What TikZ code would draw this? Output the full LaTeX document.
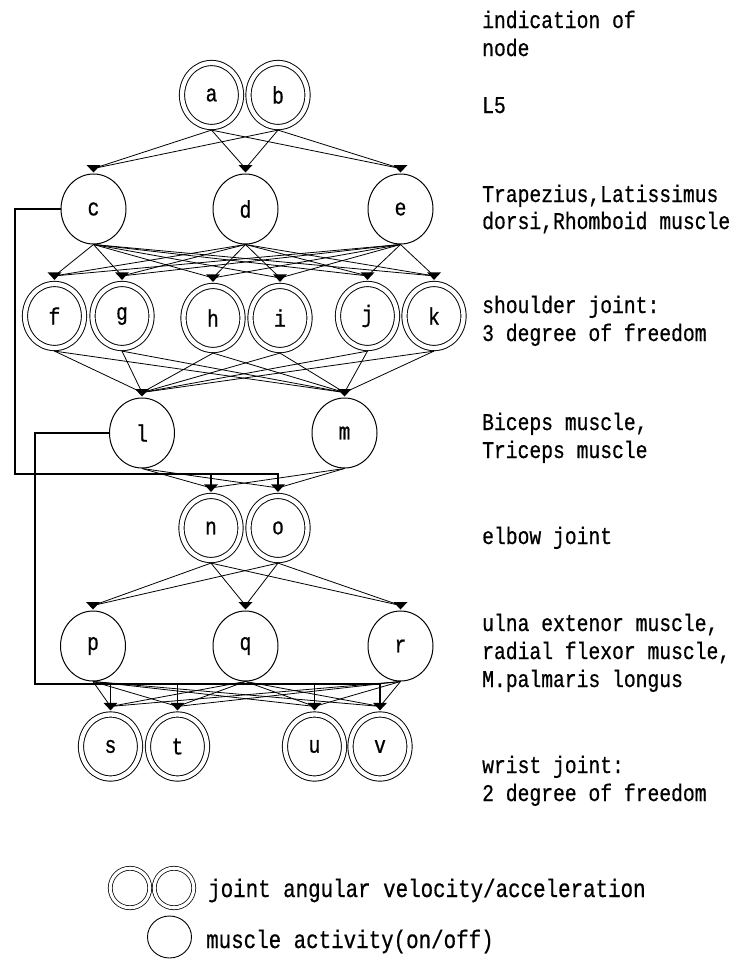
\documentclass[tikz,border=0pt]{standalone}
\usepackage{fontspec}
\newfontfamily\lmono[FakeStretch=0.82,FakeBold=0.6]{Liberation Mono}
\usetikzlibrary{shapes.geometric,calc}
\begin{document}
\begin{tikzpicture}[x=1pt,y=-1pt,
  lab/.style={font=\lmono\fontsize{24}{28}\selectfont},
  muscle/.style={ellipse,draw,line width=1pt,minimum width=65pt,minimum height=70pt,inner sep=0pt,lab},
  joint/.style={ellipse,draw,double,line width=0.95pt,double distance=4.3pt,minimum width=59pt,minimum height=64pt,inner sep=0pt,outer sep=3.1pt,lab},
  jointsm/.style={circle,draw,double,line width=0.75pt,double distance=3.2pt,minimum size=39.5pt,inner sep=0pt},
  musclesm/.style={ellipse,draw,line width=0.9pt,minimum width=44pt,minimum height=42pt,inner sep=0pt},
  conn/.style={line width=0.8pt},
  fb/.style={line width=1.9pt},
  lbl/.style={anchor=base west,inner sep=0pt,font=\lmono\fontsize{24}{28}\selectfont},
  lbl2/.style={anchor=base west,inner sep=0pt,font=\lmono\fontsize{25.4}{28}\selectfont},
  ]
\useasboundingbox[fill=white] (0,0) rectangle (735,959);

% nodes
\node[joint] (a) at (211.5,95) {a};
\node[joint] (b) at (278,95) {b};
\node[muscle] (c) at (93.5,209) {c};
\node[muscle] (d) at (245.5,209) {d};
\node[muscle] (e) at (400.5,209) {e};
\node[joint] (f) at (54.5,316) {f};
\node[joint] (g) at (122,316) {g};
\node[joint] (h) at (213,318) {h};
\node[joint] (i) at (280,318) {i};
\node[joint] (j) at (367.5,316) {j};
\node[joint] (k) at (434,316) {k};
\node[muscle] (l) at (142,433) {l};
\node[muscle] (m) at (344.5,433) {m};
\node[joint] (n) at (211,528) {n};
\node[joint] (o) at (278,528) {o};
\node[muscle] (p) at (93,646) {p};
\node[muscle] (q) at (245.5,646) {q};
\node[muscle] (r) at (400.5,646) {r};
\node[joint] (s) at (110.5,746.5) {s};
\node[joint] (t) at (177.5,746.5) {t};
\node[joint] (u) at (314.5,746.5) {u};
\node[joint] (v) at (380,746.5) {v};

% arrow markers
\foreach \n in {c,d,e,f,g,h,i,j,k,l,m,n,o,p,q,r,s,t,u,v}{
  \coordinate (\n-in) at ([yshift=5pt]\n.north);
  \fill ([yshift=1pt]\n.north) -- ++(-7pt,7.5pt) -- ++(14pt,0pt) -- cycle;
}

% connectors
\foreach \s in {a,b}{\foreach \t in {c,d,e}{\draw[conn] (\s.south) -- (\t-in);}}
\foreach \s in {c,d,e}{\foreach \t in {f,g,h,i,j,k}{\draw[conn] (\s.south) -- (\t-in);}}
\foreach \s in {f,g,h,i,j,k}{\foreach \t in {l,m}{\draw[conn] (\s.south) -- (\t-in);}}
\foreach \s in {l,m}{\foreach \t in {n,o}{\draw[conn] (\s.south) -- (\t-in);}}
\foreach \s in {n,o}{\foreach \t in {p,q,r}{\draw[conn] (\s.south) -- (\t-in);}}
\foreach \s in {p,q,r}{\foreach \t in {s,t,u,v}{\draw[conn] (\s.south) -- (\t-in);}}

% feedback lines
\coordinate (fb1) at (15,474);
\draw[fb] (c.west) -| (fb1) -| (o-in);
\draw[fb] (n-in |- fb1) -- (n-in);
\coordinate (fb2) at (35,684);
\draw[fb] (l.west) -| (fb2) -| (v-in);
\draw[fb] (s-in |- fb2) -- (s-in);
\draw[fb] (t-in |- fb2) -- (t-in);
\draw[fb] (u-in |- fb2) -- (u-in);

% right labels
\node[lbl] (t1) at (482,28) {indication of};
\node[lbl] (t2) at (482,56) {node};
\node[lbl] (t3) at (482,113) {L5};
\node[lbl] (t4) at (482,202) {Trapezius,Latissimus};
\node[lbl] (t5) at (482,229) {dorsi,Rhomboid muscle};
\node[lbl] (t6) at (482,313) {shoulder joint:};
\node[lbl] (t7) at (482,341) {3 degree of freedom};
\node[lbl] (t8) at (482,430) {Biceps muscle,};
\node[lbl] (t9) at (482,458) {Triceps muscle};
\node[lbl] (t10) at (482,544) {elbow joint};
\node[lbl] (t11) at (482,631) {ulna extenor muscle,};
\node[lbl] (t12) at (482,659) {radial flexor muscle,};
\node[lbl] (t13) at (482,687) {M.palmaris longus};
\node[lbl] (t14) at (482,773) {wrist joint:};
\node[lbl] (t15) at (482,801) {2 degree of freedom};

% legend
\node[jointsm] (lg1) at (130,888) {};
\node[jointsm] (lg2) at (174,888) {};
\node[musclesm] (lg3) at (169.5,937) {};
\node[lbl2] (lt1) at (208,897) {joint angular velocity/acceleration};
\node[lbl2] (lt2) at (206,948) {muscle activity(on/off)};
\end{tikzpicture}
\end{document}
